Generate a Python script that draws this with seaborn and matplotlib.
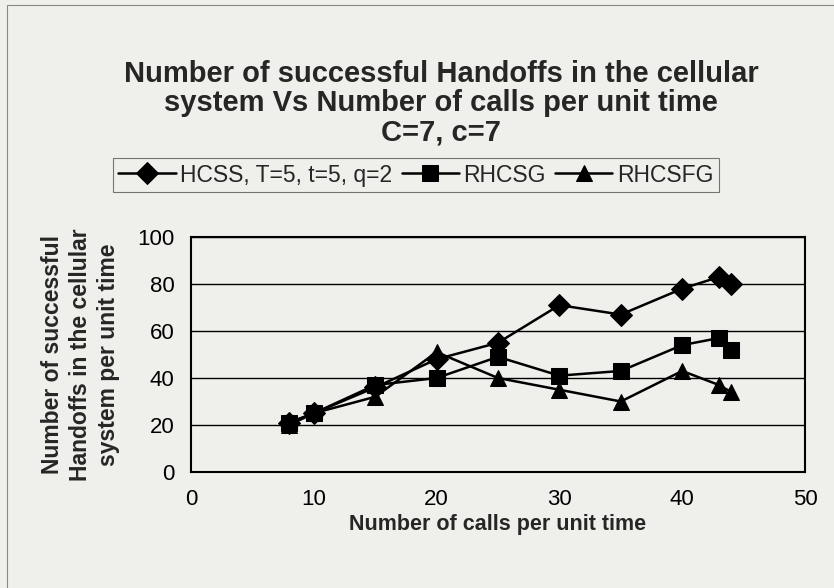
import pandas as pd
import matplotlib.pyplot as plt
import seaborn as sns
from matplotlib.patches import Rectangle

# Dados
chamadas = [8, 10, 15, 20, 25, 30, 35, 40, 43, 44]
hcss = [21, 25, 36, 48, 55, 71, 67, 78, 83, 80]
rhcsg = [21, 25, 37, 40, 49, 41, 43, 54, 57, 52]
rhcsfg = [20, 25, 32, 51, 40, 35, 30, 43, 37, 34]
nomes = ['HCSS, T=5, t=5, q=2', 'RHCSG', 'RHCSFG']
marcadores = ['D', 's', '^']

dados = pd.DataFrame({
    'chamadas': chamadas * 3,
    'handoffs': hcss + rhcsg + rhcsfg,
    'serie': [n for n in nomes for _ in chamadas],
})

sns.set_theme(style='white')
plt.rcParams['font.family'] = ['Liberation Sans', 'DejaVu Sans']

fundo = '#efefeb'
fig = plt.figure(figsize=(8.34, 5.88), dpi=100, facecolor=fundo)
ax = fig.add_axes([191 / 834, 1 - 472 / 588, 614 / 834, 235 / 588])
ax.set_facecolor(fundo)

sns.lineplot(data=dados, x='chamadas', y='handoffs', hue='serie', style='serie',
             palette=['black'] * 3, markers=marcadores, dashes=False,
             markersize=11, linewidth=1.8, markeredgecolor='black', ax=ax, legend=True)

ax.set_xlim(0, 50)
ax.set_ylim(0, 100)
ax.set_xticks(range(0, 51, 10))
ax.set_yticks(range(0, 101, 20))
ax.yaxis.grid(True, color='black', linewidth=1.0)
ax.tick_params(axis='both', direction='out', length=5, width=1, colors='black',
               labelsize=16, pad=7)
for s in ax.spines.values():
    s.set_color('black')
    s.set_linewidth(1.5)

ax.set_xlabel('Number of calls per unit time', fontsize=15.5, fontweight='bold', labelpad=3)
ax.set_ylabel('Number of successful\nHandoffs in the cellular\nsystem per unit time',
              fontsize=16.5, fontweight='bold', labelpad=12, linespacing=1.3)

handles, labels = ax.get_legend_handles_labels()
ax.get_legend().remove()
leg = fig.legend(handles, labels, loc='center', bbox_to_anchor=(416 / 834, 1 - 175 / 588),
                 ncol=3, fontsize=16.5, frameon=True, fancybox=False, edgecolor='#555555',
                 facecolor=fundo, handlelength=2.5, handletextpad=0.2, columnspacing=0.4,
                 borderpad=0.25, markerscale=1.0)
leg.get_frame().set_linewidth(0.8)

fig.text(441 / 834, 1 - 103 / 588,
         'Number of successful Handoffs in the cellular\nsystem Vs Number of calls per unit time\nC=7, c=7',
         ha='center', va='center', fontsize=21, fontweight='bold', linespacing=1.06)

fig.patches.append(Rectangle((7 / 834, -0.05), 1.0, 1 - 5 / 588 + 0.05,
                             transform=fig.transFigure, fill=False,
                             edgecolor='#888888', linewidth=0.8))

fig.savefig('out.png', dpi=100, facecolor=fundo)
